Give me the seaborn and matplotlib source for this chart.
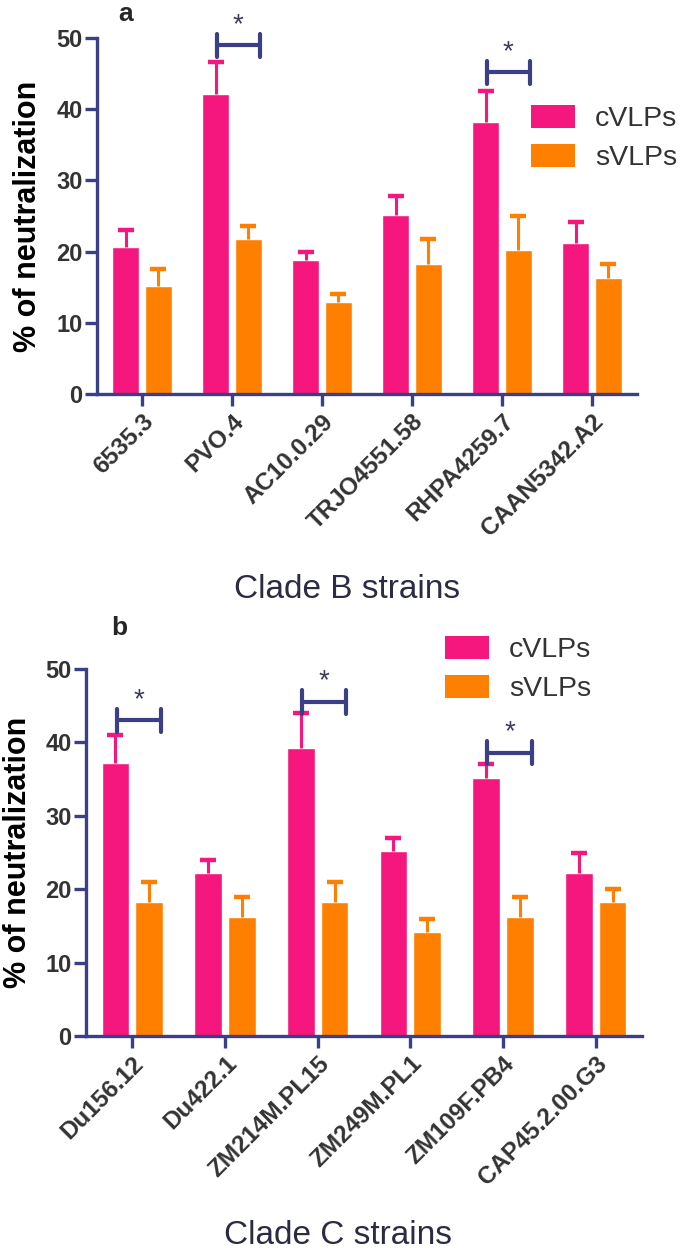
import matplotlib
matplotlib.use("Agg")
import matplotlib.pyplot as plt
from matplotlib.patches import Patch
import seaborn as sns
import pandas as pd

# values (mean, top of SEM bar)
strains_b = ["6535.3", "PVO.4", "AC10.0.29", "TRJO4551.58", "RHPA4259.7", "CAAN5342.A2"]
cvlp_b = [20.6, 42.2, 18.8, 25.2, 38.2, 21.2]
cvlp_b_top = [23.1, 46.6, 20.0, 27.8, 42.6, 24.2]
svlp_b = [15.2, 21.8, 12.9, 18.2, 20.2, 16.3]
svlp_b_top = [17.5, 23.6, 14.1, 21.8, 25.0, 18.3]

strains_c = ["Du156.12", "Du422.1", "ZM214M.PL15", "ZM249M.PL1", "ZM109F.PB4", "CAP45.2.00.G3"]
cvlp_c = [37.2, 22.2, 39.2, 25.2, 35.2, 22.2]
cvlp_c_top = [41.0, 24.0, 44.0, 27.0, 37.0, 25.0]
svlp_c = [18.2, 16.2, 18.2, 14.2, 16.2, 18.2]
svlp_c_top = [21.0, 19.0, 21.0, 16.0, 19.0, 20.0]

groups = ["cVLPs", "sVLPs"]
yticks = [0, 10, 20, 30, 40, 50]

# significance marks: (strain index, bracket height)
sig_b = [(1, 49.0), (4, 45.2)]
sig_c = [(0, 43.0), (2, 45.5), (4, 38.6)]

pink = "#f5177e"
orange = "#ff8000"
navy = "#3b3f86"
dark = "#333333"

sns.set_theme(style="white")
plt.rcParams["font.family"] = ["Liberation Sans", "DejaVu Sans"]


def make_frame(strains, c, ct, s, st):
    rows = []
    for i, name in enumerate(strains):
        rows.append({"strain": name, "vlp": "cVLPs", "value": c[i], "err": ct[i] - c[i]})
        rows.append({"strain": name, "vlp": "sVLPs", "value": s[i], "err": st[i] - s[i]})
    return pd.DataFrame(rows)


def draw_panel(ax, df, strains, sigs, xlabel, xlabel_pos, ylabel_x):
    sns.barplot(data=df, x="strain", y="value", hue="vlp", order=strains, hue_order=groups,
                palette=[pink, orange], width=0.73, gap=0.18, errorbar=None,
                saturation=1, legend=False, ax=ax)
    for cont, g, col in zip(ax.containers, groups, [pink, orange]):
        sub = df[df["vlp"] == g].set_index("strain").loc[strains]
        xs = [p.get_x() + p.get_width() / 2 for p in cont.patches]
        eb = ax.errorbar(xs, sub["value"], yerr=[[0] * len(xs), sub["err"]], fmt="none",
                         ecolor=col, elinewidth=2.2, capsize=5.5, capthick=3.2, zorder=1)
        # only the upper half of the SEM bar is shown
        eb[1][0].set_visible(False)

    for idx, h in sigs:
        x0, x1 = idx - 0.17, idx + 0.31
        ax.plot([x0, x1], [h, h], color=navy, lw=3, clip_on=False, solid_capstyle="round")
        ax.plot([x0, x0], [h - 1.6, h + 1.6], color=navy, lw=3, clip_on=False, solid_capstyle="round")
        ax.plot([x1, x1], [h - 1.6, h + 1.6], color=navy, lw=3, clip_on=False, solid_capstyle="round")
        ax.text((x0 + x1) / 2, h + 2.8, "*", ha="center", va="center", fontsize=20,
                color="#3a3d5c", clip_on=False)

    ax.set_xlim(-0.5, 5.5)
    ax.set_ylim(0, 50)
    ax.set_yticks(yticks)
    sns.despine(ax=ax)
    for side in ["left", "bottom"]:
        ax.spines[side].set_color(navy)
        ax.spines[side].set_linewidth(2.4)
    ax.tick_params(axis="both", direction="out", length=8.5, width=2.4, color=navy,
                   labelcolor=dark, bottom=True, left=True)
    ax.tick_params(axis="y", labelsize=17, pad=2)
    ax.tick_params(axis="x", pad=3)
    for lbl in ax.get_yticklabels():
        lbl.set_fontweight("bold")
    ax.set_xticks(range(len(strains)))
    ax.set_xticklabels(strains, rotation=45, ha="right", rotation_mode="anchor",
                       fontsize=17.5, fontweight="bold", color=dark)

    ax.set_xlabel(xlabel, fontsize=24, color="#2b2b45")
    ax.xaxis.set_label_coords(*xlabel_pos)
    ax.set_ylabel("% of neutralization", fontsize=22, fontweight="bold", color="black")
    ax.yaxis.set_label_coords(ylabel_x, 0.5)


fig = plt.figure(figsize=(6.85, 12.52), dpi=100)
ax_a = fig.add_axes([97 / 685, 1 - 394 / 1252, 540 / 685, 356 / 1252])
ax_b = fig.add_axes([86 / 685, 1 - 1036 / 1252, 556 / 685, 367 / 1252])

df_b = make_frame(strains_b, cvlp_b, cvlp_b_top, svlp_b, svlp_b_top)
df_c = make_frame(strains_c, cvlp_c, cvlp_c_top, svlp_c, svlp_c_top)

draw_panel(ax_a, df_b, strains_b, sig_b, "Clade B strains", (0.463, -0.505), -0.10)
draw_panel(ax_b, df_c, strains_c, sig_c, "Clade C strains", (0.453, -0.50), -0.095)

handles = [Patch(facecolor=pink, edgecolor="none"), Patch(facecolor=orange, edgecolor="none")]
for anchor in [(531 / 685, 1 - 105 / 1252), (445 / 685, 1 - 636 / 1252)]:
    fig.legend(handles, groups, loc="upper left", bbox_to_anchor=anchor, frameon=False,
               fontsize=20.5, handlelength=1.55, handleheight=0.85, handletextpad=0.7,
               labelspacing=0.42, borderpad=0, borderaxespad=0, labelcolor=dark)

fig.text(126 / 685, 1 - 14 / 1252, "a", ha="center", va="center", fontsize=19, fontweight="bold")
fig.text(119 / 685, 1 - 628 / 1252, "b", ha="center", va="center", fontsize=19, fontweight="bold")

fig.savefig("out.png", dpi=100)
